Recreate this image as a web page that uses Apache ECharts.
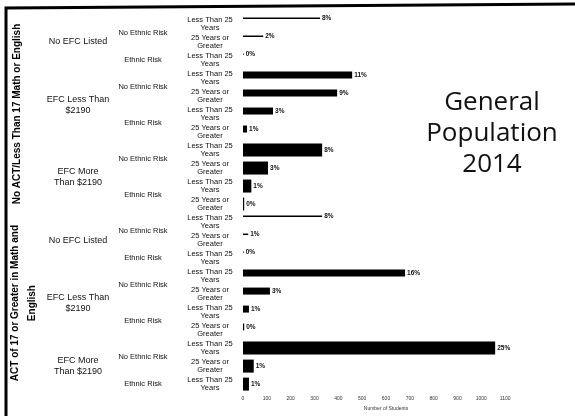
<!DOCTYPE html>
<html><head><meta charset="utf-8">
<script src="https://cdn.jsdelivr.net/npm/echarts@6/dist/echarts.min.js"></script>
<style>html,body{margin:0;padding:0;background:#fff}#c{width:575px;height:416px}</style>
</head><body><div id="c"></div>
<script>
// ---- data ----
const tierLabels = ["No ACT/Less Than 17 Math or English", "ACT of 17 or Greater in Math and\nEnglish"];
const efcLabels = ["No EFC Listed", "EFC Less Than\n$2190", "EFC More\nThan $2190"];
const ethnicLabels = ["No Ethnic Risk", "Ethnic Risk"];
const ageLabels = ["Less Than 25\nYears", "25 Years or\nGreater"];
// one entry per bar row (top to bottom)
const rowTier   = [0,0,0, 0,0,0,0, 0,0,0,0, 1,1,1, 1,1,1,1, 1,1,1];
const rowEfc    = [0,0,0, 1,1,1,1, 2,2,2,2, 0,0,0, 1,1,1,1, 2,2,2];
const rowEthnic = [0,0,1, 0,0,1,1, 0,0,1,1, 0,0,1, 0,0,1,1, 0,0,1];
const rowAge    = [0,1,0, 0,1,0,1, 0,1,0,1, 0,1,0, 0,1,0,1, 0,1,0];
const students  = [323,85,3, 458,395,126,17, 332,105,35,5, 332,22,3, 680,113,25,5, 1058,45,25];
const percents  = ["8%","2%","0%","11%","9%","3%","1%","8%","3%","1%","0%","8%","1%","0%","16%","3%","1%","0%","25%","1%","1%"];
const xTicks = [0,100,200,300,400,500,600,700,800,900,1000,1100];

const categories = rowAge.map(a => ageLabels[a]);
const barWidths = [1.5, 7, 13];

const chart = echarts.init(document.getElementById('c'), null, {renderer:'canvas'});
const series = barWidths.map((w, e) => ({
  type: 'bar',
  barWidth: w,
  barGap: '-100%',
  itemStyle: {color: '#000'},
  data: students.map((v, i) => rowEfc[i] === e ? v : '-'),
  label: {
    show: true, position: 'right', distance: 2,
    fontFamily: 'Liberation Sans', fontSize: 6.5, fontWeight: 'bold', color: '#111',
    formatter: p => percents[p.dataIndex]
  }
}));

chart.setOption({
  animation: false,
  grid: {left: 243, right: 46, top: 15, bottom: 14},
  xAxis: {
    type: 'value', min: 0, max: 1200, interval: 100,
    axisLine: {show: false}, axisTick: {show: false}, splitLine: {show: false},
    axisLabel: {fontFamily: 'Liberation Sans', fontSize: 5, color: '#333', margin: 3,
      formatter: v => xTicks.indexOf(v) >= 0 ? String(v) : ''},
    name: 'Number of Students', nameLocation: 'middle', nameGap: 10,
    nameTextStyle: {fontFamily: 'Liberation Sans', fontSize: 5, color: '#333'}
  },
  yAxis: {
    type: 'category', inverse: true, data: categories,
    axisLine: {show: false}, axisTick: {show: false},
    axisLabel: {fontFamily: 'Liberation Sans', fontSize: 7.5, color: '#111', align: 'center',
      margin: 33, lineHeight: 8, interval: 0}
  },
  series: series
});

// hierarchical group labels, placed via the category axis scale
function yOf(i) { return chart.convertToPixel({yAxisIndex: 0}, i); }
function spans(keyFn) {
  const out = []; let start = 0;
  for (let i = 1; i <= categories.length; i++) {
    if (i === categories.length || keyFn(i) !== keyFn(start)) { out.push([start, i - 1]); start = i; }
  }
  return out;
}
const g = [];
spans(i => rowTier[i] + '-' + rowEfc[i] + '-' + rowEthnic[i]).forEach(([a, b]) => {
  g.push({type: 'text', x: 143, y: (yOf(a) + yOf(b)) / 2,
    style: {text: ethnicLabels[rowEthnic[a]], fontFamily: 'Liberation Sans', fontSize: 7.5, fill: '#111',
      textAlign: 'center', textVerticalAlign: 'middle'}});
});
spans(i => rowTier[i] + '-' + rowEfc[i]).forEach(([a, b]) => {
  g.push({type: 'text', x: 78, y: (yOf(a) + yOf(b)) / 2,
    style: {text: efcLabels[rowEfc[a]], fontFamily: 'Liberation Sans', fontSize: 9, fill: '#111',
      textAlign: 'center', textVerticalAlign: 'middle', lineHeight: 11}});
});
spans(i => rowTier[i]).forEach(([a, b]) => {
  const multi = tierLabels[rowTier[a]].indexOf('\n') >= 0;
  g.push({type: 'text', x: multi ? 23.5 : 17, y: (yOf(a) + yOf(b)) / 2, rotation: Math.PI / 2,
    style: {text: tierLabels[rowTier[a]], fontFamily: 'Liberation Sans', fontSize: 10, fontWeight: 'bold',
      fill: '#000', textAlign: 'center', textVerticalAlign: 'middle', lineHeight: 17}});
});
g.push({type: 'polyline', shape: {points: [[6, 416], [6, 8], [575, 4]]},
  style: {stroke: '#000', lineWidth: 3, fill: null}});
g.push({type: 'text', x: 492, y: 134,
  style: {text: 'General\nPopulation\n2014', fontFamily: 'Open Sans', fontSize: 26, fill: '#111',
    textAlign: 'center', textVerticalAlign: 'middle', lineHeight: 31}});
chart.setOption({graphic: g});
</script></body></html>
